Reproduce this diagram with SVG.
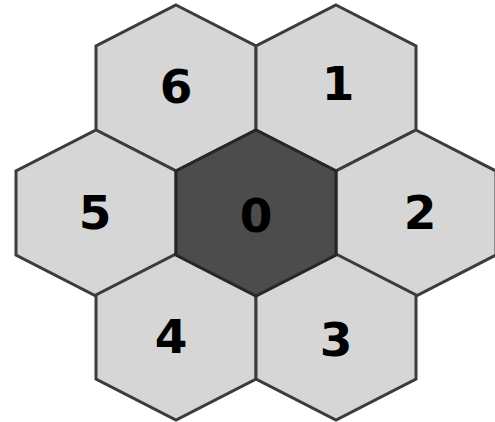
<svg xmlns="http://www.w3.org/2000/svg" width="495" height="422" viewBox="0 0 495 422">
<defs>
<style>
.hex{fill:#d6d6d6;stroke:#3c3c3c;stroke-width:3;stroke-linejoin:miter}
.dark{fill:#4c4c4c;stroke:#262626}
.lbl{font-family:"DejaVu Sans",sans-serif;font-weight:bold;font-size:47px;fill:#000;text-anchor:middle}
</style>
<polygon id="hexshape" points="0,-83 80,-42 80,42 0,83 -80,42 -80,-42"/>
</defs>
<rect width="495" height="422" fill="#fff"/>
<g id="node6" transform="translate(176,88)"><use href="#hexshape" class="hex"/><text class="lbl" x="0" y="15">6</text></g>
<g id="node1" transform="translate(336,88)"><use href="#hexshape" class="hex"/><text class="lbl" x="2" y="12">1</text></g>
<g id="node5" transform="translate(96,213)"><use href="#hexshape" class="hex"/><text class="lbl" x="-1" y="16">5</text></g>
<g id="node2" transform="translate(416,213)"><use href="#hexshape" class="hex"/><text class="lbl" x="4" y="16">2</text></g>
<g id="node4" transform="translate(176,337)"><use href="#hexshape" class="hex"/><text class="lbl" x="-5" y="16">4</text></g>
<g id="node3" transform="translate(336,337)"><use href="#hexshape" class="hex"/><text class="lbl" x="0" y="19">3</text></g>
<g id="node0" transform="translate(256,213)"><use href="#hexshape" class="hex dark"/><text class="lbl" x="0" y="19">0</text></g>
<g id="connectors"></g>
</svg>
